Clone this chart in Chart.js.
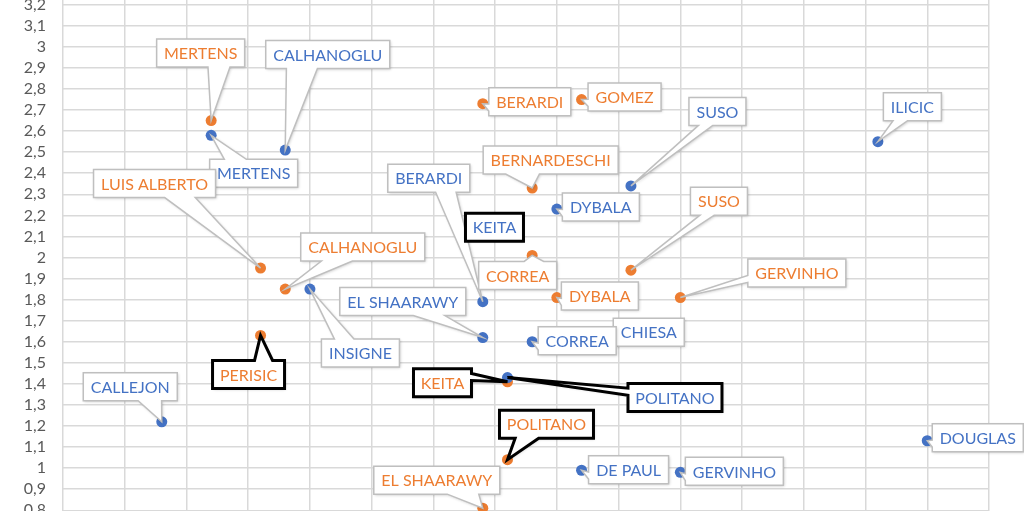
<!DOCTYPE html>
<html>
<head>
<meta charset="utf-8">
<script src="https://cdn.jsdelivr.net/npm/chart.js@4.4.1/dist/chart.umd.min.js"></script>
<style>
  html, body { margin: 0; padding: 0; background: #ffffff; overflow: hidden; width: 1024px; height: 511px; }
  #wrap { position: absolute; left: 0; top: -64px; width: 1024px; height: 643px; }
</style>
</head>
<body>
<div id="wrap"><canvas id="c" width="1024" height="643"></canvas></div>
<script>
// ---- DATA ----
const blueNames = ['CALLEJON','MERTENS','CALHANOGLU','INSIGNE','BERARDI','EL SHAARAWY','KEITA','POLITANO','CHIESA','CORREA','DYBALA','DE PAUL','SUSO','GERVINHO','ILICIC','DOUGLAS'];
const blueX     = [4, 6, 9, 10, 17, 17, 18, 18, 22, 19, 20, 21, 23, 25, 33, 35];
const blueY     = [1.22, 2.58, 2.51, 1.85, 1.79, 1.62, 2.12, 1.43, 1.60, 1.60, 2.23, 0.99, 2.34, 0.98, 2.55, 1.13];

const orangeNames = ['MERTENS','LUIS ALBERTO','PERISIC','CALHANOGLU','BERARDI','EL SHAARAWY','KEITA','POLITANO','BERNARDESCHI','CORREA','DYBALA','GOMEZ','SUSO','GERVINHO'];
const orangeX     = [6, 8, 8, 9, 17, 17, 18, 18, 19, 19, 20, 21, 23, 25];
const orangeY     = [2.65, 1.95, 1.63, 1.85, 2.73, 0.81, 1.41, 1.04, 2.33, 2.01, 1.81, 2.75, 1.94, 1.81];

const yTickMin = 0.6, yTickMax = 3.4, yTickStep = 0.1;
const xMin = 0, xMax = 37.5, xStep = 2.5;

// ---- CALLOUT LAYOUT (box centre offset from point, in px; style) ----
const blueCallouts = {
  'CALLEJON':[-31.5,-35], 'MERTENS':[42.5,38], 'CALHANOGLU':[42.5,-95.5], 'INSIGNE':[50.5,64],
  'BERARDI':[-54,-123.5], 'EL SHAARAWY':[-80,-36], 'KEITA':[-13,-5,'dark'], 'POLITANO':[167.5,20,'dark'],
  'CHIESA':[42.5,-9.5], 'CORREA':[45,-1], 'DYBALA':[44,-2], 'DE PAUL':[47,-0.5], 'SUSO':[86.5,-74.5],
  'GERVINHO':[54,-1], 'ILICIC':[34.5,-35], 'DOUGLAS':[50.5,-3]
};
const orangeCallouts = {
  'MERTENS':[-10.5,-67.5], 'LUIS ALBERTO':[-106,-84.5], 'PERISIC':[-12,39,'dark'], 'CALHANOGLU':[77.5,-42],
  'BERARDI':[47,-2], 'EL SHAARAWY':[-46,-28], 'KEITA':[-65,1,'dark'], 'POLITANO':[39,-35.5,'dark'],
  'BERNARDESCHI':[18.5,-28], 'CORREA':[-14.5,20], 'DYBALA':[43,-1.5], 'GOMEZ':[43,-2.5],
  'SUSO':[88,-69], 'GERVINHO':[116.5,-24.5]
};

const BLUE = '#4472C4', ORANGE = '#ED7D31';
const LABEL_FONT = '16px Lato';

function toPoints(xs, ys){ return xs.map((x,i)=>({x:x, y:ys[i]})); }

function calloutPath(ctx, x0, y0, w, h, tx, ty){
  const x1 = x0 + w, y1 = y0 + h, cx = x0 + w/2, cy = y0 + h/2;
  const dx = tx - cx, dy = ty - cy;
  const inside = tx >= x0 && tx <= x1 && ty >= y0 && ty <= y1;
  ctx.beginPath();
  if (inside) { ctx.rect(x0, y0, w, h); return; }
  const horiz = Math.abs(dx)/w > Math.abs(dy)/h;
  const xa = x0 + w*(dx > 0 ? 7 : 2)/12, xb = x0 + w*(dx > 0 ? 10 : 5)/12;
  const ya = y0 + h*(dy > 0 ? 7 : 2)/12, yb = y0 + h*(dy > 0 ? 10 : 5)/12;
  ctx.moveTo(x0, y0);
  if (!horiz && dy < 0) { ctx.lineTo(xa, y0); ctx.lineTo(tx, ty); ctx.lineTo(xb, y0); }
  ctx.lineTo(x1, y0);
  if (horiz && dx > 0) { ctx.lineTo(x1, ya); ctx.lineTo(tx, ty); ctx.lineTo(x1, yb); }
  ctx.lineTo(x1, y1);
  if (!horiz && dy > 0) { ctx.lineTo(xb, y1); ctx.lineTo(tx, ty); ctx.lineTo(xa, y1); }
  ctx.lineTo(x0, y1);
  if (horiz && dx < 0) { ctx.lineTo(x0, yb); ctx.lineTo(tx, ty); ctx.lineTo(x0, ya); }
  ctx.closePath();
}

const calloutPlugin = {
  id: 'callouts',
  afterDatasetsDraw(chart){
    const ctx = chart.ctx;
    ctx.save();
    ctx.font = LABEL_FONT;
    chart.data.datasets.forEach((ds, di) => {
      const meta = chart.getDatasetMeta(di);
      ds.names.forEach((name, i) => {
        const el = meta.data[i];
        const lay = ds.callouts[name];
        if (!el || !lay) return;
        const px = el.x, py = el.y;
        const tw = ctx.measureText(name).width;
        const w = Math.round(tw + 15), h = 28;
        const cx = px + lay[0], cy = py + lay[1];
        const x0 = cx - w/2, y0 = cy - h/2;
        const dark = lay[2] === 'dark';
        calloutPath(ctx, x0, y0, w, h, px, py);
        ctx.save();
        ctx.shadowColor = 'rgba(0,0,0,0.22)';
        ctx.shadowBlur = 3;
        ctx.shadowOffsetX = 1;
        ctx.shadowOffsetY = 1;
        ctx.fillStyle = '#ffffff';
        ctx.fill();
        ctx.restore();
        ctx.lineJoin = 'miter';
        ctx.strokeStyle = dark ? '#000000' : '#BFBFBF';
        ctx.lineWidth = dark ? 3 : 1.5;
        ctx.stroke();
        ctx.fillStyle = ds.textColor;
        ctx.textAlign = 'center';
        ctx.textBaseline = 'middle';
        ctx.fillText(name, cx, cy + 1);
      });
    });
    ctx.restore();
  }
};

function fmtTick(v){
  const r = Math.round(v);
  if (Math.abs(v - r) < 1e-6) return String(r);
  return v.toFixed(1).replace('.', ',');
}

new Chart(document.getElementById('c'), {
  type: 'scatter',
  data: {
    datasets: [
      { label: 'Blu', data: toPoints(blueX, blueY), names: blueNames, callouts: blueCallouts, textColor: BLUE,
        backgroundColor: BLUE, borderWidth: 0, pointRadius: 5.5, pointHoverRadius: 5.5 },
      { label: 'Arancio', data: toPoints(orangeX, orangeY), names: orangeNames, callouts: orangeCallouts, textColor: ORANGE,
        backgroundColor: ORANGE, borderWidth: 0, pointRadius: 5.5, pointHoverRadius: 5.5 }
    ]
  },
  options: {
    responsive: false,
    animation: false,
    devicePixelRatio: 1,
    layout: { padding: { top: 20, bottom: 20, left: 0, right: 35 } },
    plugins: { legend: { display: false }, tooltip: { enabled: false } },
    scales: {
      x: {
        type: 'linear', min: xMin, max: xMax,
        ticks: { display: false, stepSize: xStep },
        grid: { color: '#D9D9D9', lineWidth: 1.5, drawTicks: false },
        border: { display: false },
        afterFit: s => { s.height = 0; }
      },
      y: {
        type: 'linear', min: yTickMin, max: yTickMax,
        ticks: { stepSize: yTickStep, autoSkip: false, padding: 17, color: '#595959',
                 font: { family: 'Lato', size: 16 }, callback: fmtTick },
        grid: { color: '#D9D9D9', lineWidth: 1.5, drawTicks: false },
        border: { display: false },
        afterFit: s => { s.width = 63; }
      }
    }
  },
  plugins: [calloutPlugin]
});
</script>
</body>
</html>
